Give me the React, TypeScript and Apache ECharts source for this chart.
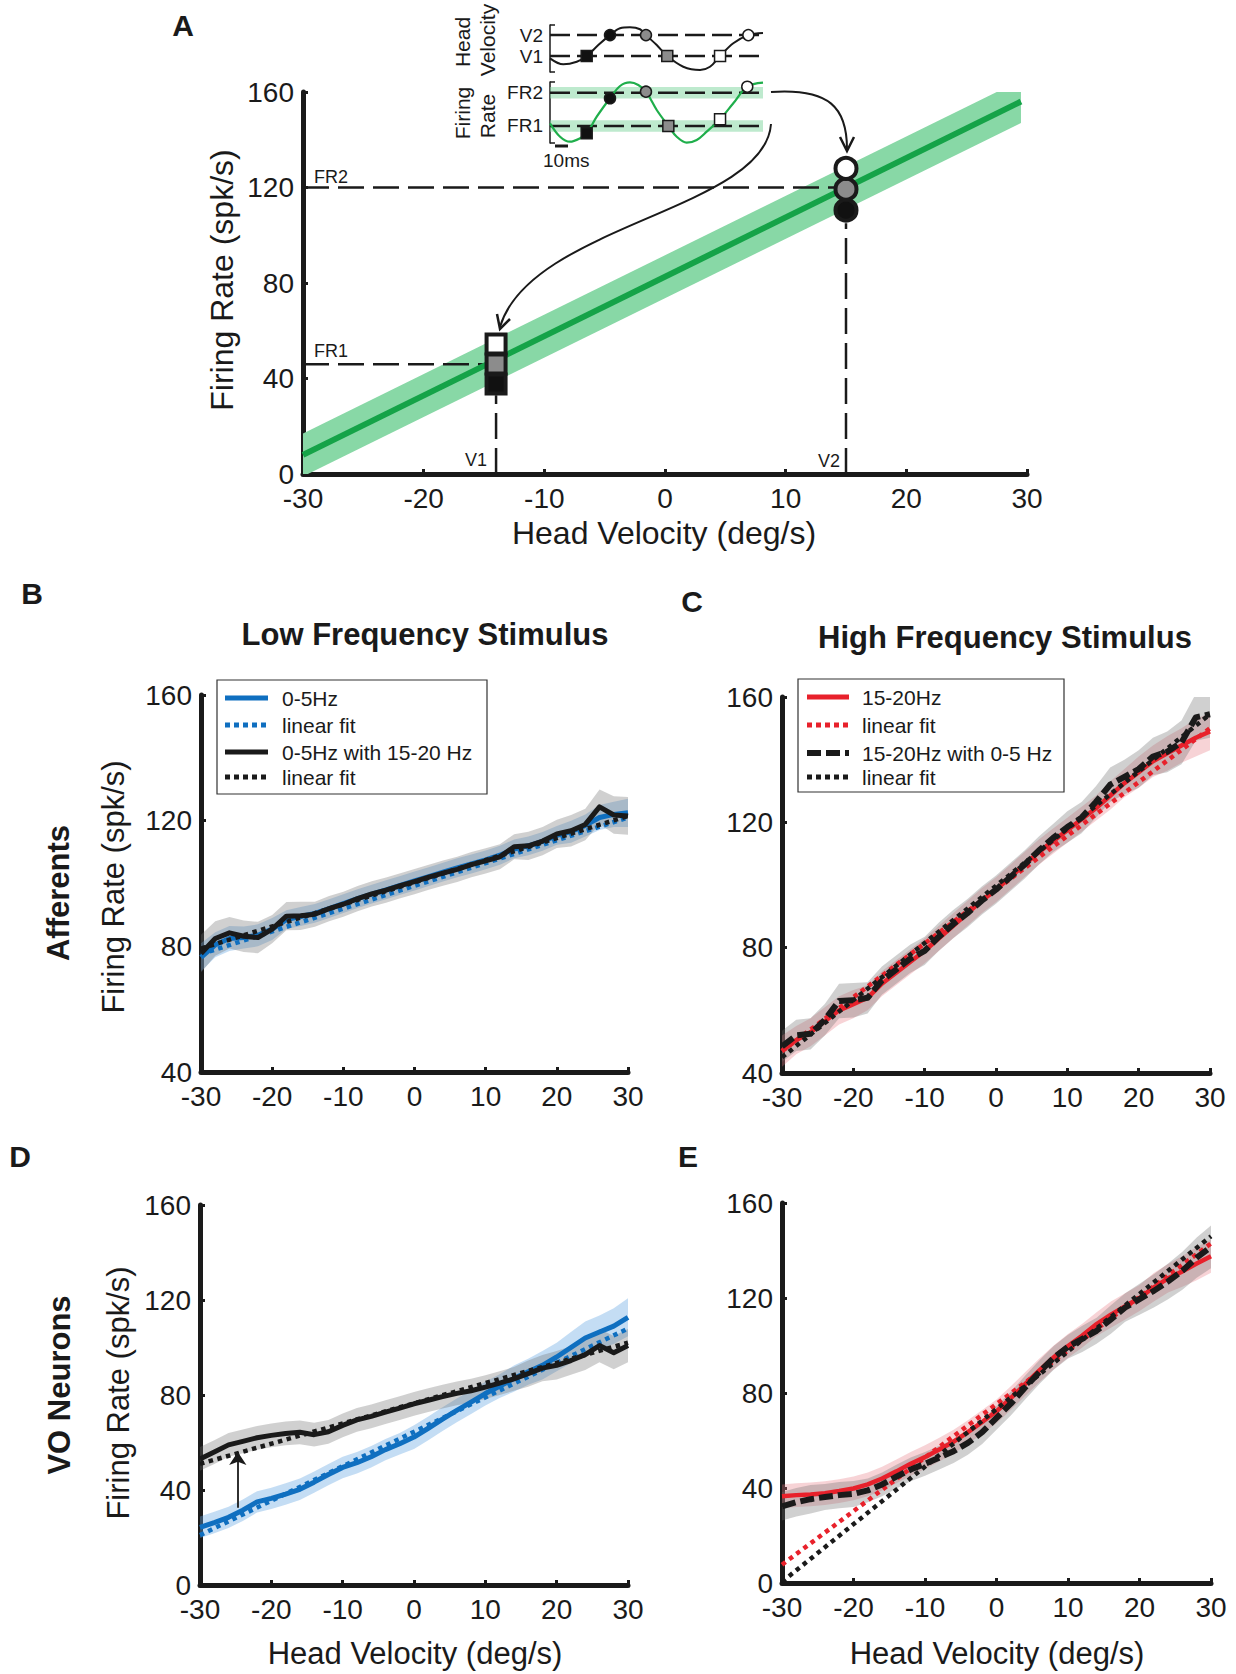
import React, { useEffect, useRef } from 'react';
import * as echarts from 'echarts';

const INK = '#1a1a1a';
const FONT = "'Liberation Sans', Arial, Helvetica, sans-serif";
const BLUE = '#0f6fc0';
const BLUE_BAND = 'rgba(100,165,225,0.38)';
const RED = '#e8212b';
const RED_BAND = 'rgba(232,120,130,0.33)';
const GREY_BAND = 'rgba(110,110,110,0.32)';
const GREEN = '#15a348';
const GREEN_BAND = '#88d8a6';

// ---------- Panel A ----------
const A_FIT_X = [-30, 29.5];
const A_FIT_Y = [8, 156];
const A_BAND_HALF = 9;
const V1 = -14;
const V2 = 15;
const FR1 = 46;
const FR2 = 120;
const A_SQUARES = [37.7, 46.1, 54.5]; // black, grey, white
const A_CIRCLES = [110.5, 119.3, 128]; // black, grey, white
const MARK_FILLS = ['#111111', '#8c8c8c', '#ffffff'];

// inset (time in ms)
const HV_T = [0, 11.2, 22.6, 31, 40.8, 50.7, 59.2, 67.6, 76.1, 81.1, 90.2, 99.1, 112.6, 126.8, 135.2, 143.7, 154.9, 167.6, 180];
const HV_V = [-17.1, -25.4, -21.8, -14, 1.3, 15, 24.4, 25.8, 23.1, 15, 1.3, -14, -28.7, -33.2, -28.7, -14, 3.7, 15, 17.9];
const FR_T = [0, 8.5, 16.9, 25.4, 31, 39.5, 50.7, 59.2, 67.6, 74.6, 81.1, 90.2, 100, 107.1, 115.5, 124, 132.4, 143.7, 154.9, 166.7, 180];
const FR_V = [51.9, 22, 10.9, 18.5, 29.6, 66.6, 107.7, 135.1, 143, 137.3, 122.4, 81.6, 46, 22, 8.7, 14.7, 33.2, 60.8, 96.5, 133.5, 142.4];
const HV_MARK_T = [31, 50.7, 81.1, 99.1, 143.7, 167.6];
const HV_MARK_V = [V1, V2, V2, V1, V1, V2];
const FR_MARK_T = [31, 50.7, 81.1, 100, 143.7, 166.7];
const FR_MARK_V = [29.6, 107.7, 122.4, 46, 60.8, 133.5];
const MARK_KIND = ['rect', 'circle', 'circle', 'rect', 'rect', 'circle'];
const MARK_SHADE = [0, 0, 1, 1, 2, 2];
const INSET_T_RANGE = [0, 180];
const INSET_BAND_HALF = 13;

// ---------- Panels B-E ----------
const VEL = [-30, -28, -26, -24, -22, -20, -18, -16, -14, -12, -10, -8, -6, -4, -2, 0, 2, 4, 6, 8, 10, 12, 14, 16, 18, 20, 22, 24, 26, 28, 30];
const FIT_X = [-30, 30];

const B_LOW = [76.5, 80.5, 82.5, 82.8, 83.5, 85.5, 88.5, 89.5, 90.5, 92, 93.6, 95.2, 96.6, 98, 99.4, 100.8, 102.2, 103.6, 105, 106.2, 107.5, 109, 111, 112, 113.4, 115.3, 116.5, 118.5, 121, 122, 122.5];
const B_MIX = [77.7, 82.5, 84.3, 83.2, 82.8, 85.5, 89.6, 89.7, 90.2, 92, 93.4, 95.2, 96.7, 97.9, 99.3, 100.6, 102, 103.3, 104.5, 106, 107.2, 108.5, 111.7, 112, 113.5, 115.8, 116.8, 118.8, 124.4, 121.8, 121.5];
const B_LOW_SEM = [4.5, 4, 4, 3.5, 3.5, 3.5, 3, 3, 3, 3, 3, 3, 3, 3, 3, 3, 3, 3, 3, 3, 3, 3, 3, 3, 3, 3, 3.5, 3.5, 4, 4, 4.5];
const B_MIX_SEM = [6, 5.5, 5, 5, 5, 4.5, 4.5, 4.5, 4, 4, 4, 4, 4, 4, 4, 4, 4, 4, 4, 4, 4, 4, 4, 4.5, 4.5, 4.5, 5, 5, 5.5, 6, 6];
const B_LOW_FIT = [77.5, 121];
const B_MIX_FIT = [79.3, 121.5];

const C_HIGH = [47, 50.5, 53, 56.5, 60, 62, 64, 68.5, 72, 75.5, 79, 83, 87, 91, 95, 98.5, 102.5, 106.5, 110.5, 114, 117.5, 121, 124.5, 128.5, 132.5, 136, 139.5, 142, 144.5, 147, 149];
const C_MIX = [48.5, 52, 52.5, 57, 63, 63.2, 64, 69.5, 73, 76.5, 79, 83.5, 87.5, 91, 95, 98.5, 102.5, 106.5, 111, 115, 118.5, 121.5, 126.5, 132, 134.5, 137, 141, 142.5, 145.5, 153.5, 154.5];
const C_HIGH_SEM = [5, 4.5, 4.5, 4.5, 4.5, 4.5, 4, 4, 4, 4, 4, 4, 4, 4, 4, 4, 4, 4, 4, 4, 4, 4, 4, 4.5, 4.5, 5, 5, 5.5, 5.5, 6, 6];
const C_MIX_SEM = [5, 5, 5, 5, 5.5, 5.5, 5, 4.5, 4.5, 4.5, 4.5, 4.5, 4.5, 4.5, 4.5, 4.5, 4.5, 4.5, 4.5, 4.5, 5, 5, 5, 5.5, 5.5, 6, 6, 6.5, 7, 7.5, 7.5];
const C_HIGH_FIT = [47, 150];
const C_MIX_FIT = [45, 154.5];

const D_LOW = [24.3, 26.3, 28.5, 31.5, 35, 36.5, 38.3, 40.3, 43.3, 46.5, 49.5, 51.5, 54, 57, 59.5, 62.3, 66, 69.8, 73.5, 77, 80.6, 83.7, 86.9, 89.8, 92.5, 96, 100, 104, 106.5, 109, 112.7];
const D_MIX = [53.1, 56, 59, 60.5, 62, 63, 63.8, 64.3, 63.3, 64.5, 67.2, 69.5, 71, 72.8, 74.5, 76.3, 77.8, 79.3, 80.7, 81.8, 83.3, 85, 86.8, 89, 91.3, 92.5, 94.5, 97, 100.8, 97.8, 100.8];
const D_LOW_SEM = [4.5, 4.5, 4.5, 4.5, 4.5, 4.5, 4.5, 4.5, 4.5, 4.5, 4.5, 4.5, 4.5, 4.5, 4.5, 5, 5, 5, 5, 5, 5, 5, 5.5, 5.5, 6, 6, 6.5, 7, 7, 7.5, 8];
const D_MIX_SEM = [5, 5, 5, 5, 5, 5, 5, 5, 5, 5, 5, 5, 5, 5, 5, 5, 5, 5, 5, 5, 5, 5, 5, 5.5, 5.5, 6, 6, 6.5, 7, 7, 7];
const D_LOW_FIT = [21, 108];
const D_MIX_FIT = [51, 102];
const D_ARROW_X = -24.7;
const D_ARROW_Y = [32.5, 56];

const E_HIGH = [36.5, 37, 37.3, 37.8, 38.7, 39.8, 41.5, 44, 47, 50.2, 53, 56.2, 59.5, 63.5, 67.8, 72.3, 77.8, 83.7, 89.5, 95, 99.8, 104.2, 109, 113, 116.5, 120, 124.5, 128.3, 131.2, 134.5, 137.6];
const E_MIX = [32.3, 34, 35.3, 36.2, 37, 37.5, 39, 41.5, 44.8, 47.8, 50.2, 52.8, 55.5, 59, 63.5, 69.5, 75.5, 82.3, 88.8, 94.8, 99.5, 102.8, 106.2, 111, 116, 119.5, 123, 127, 131.5, 137, 141.5];
const E_HIGH_SEM = [5, 5, 5, 5, 5, 5, 5, 5, 5, 5, 5, 5, 5, 5, 5, 5, 5, 5, 5, 5, 5, 5, 5, 5.5, 5.5, 5.5, 6, 6, 6.5, 7, 7];
const E_MIX_SEM = [6, 6, 6, 5.5, 5.5, 5.5, 5, 5, 5, 5, 5, 5, 5, 5, 5, 5, 5, 5, 5, 5, 5, 5.5, 5.5, 6, 6, 6.5, 7, 7.5, 8, 8.5, 9];
const E_HIGH_FIT = [7.7, 143];
const E_MIX_FIT = [0.5, 146];

const X_TICKS = { min: -30, max: 30, interval: 10 };

// ---------- helpers ----------
const pairs = (xs: number[], ys: number[]) => xs.map((x, i) => [x, ys[i]]);

function band(gi: number, xs: number[], mean: number[], half: number[] | number, color: string) {
  const h = (i: number) => (Array.isArray(half) ? half[i] : half);
  const lo = mean.map((m, i) => m - h(i));
  const hi = mean.map((m, i) => m + h(i));
  return {
    type: 'custom',
    xAxisIndex: gi,
    yAxisIndex: gi,
    clip: true,
    silent: true,
    z: 1,
    encode: { x: 0, y: 1 },
    data: [[xs[0], mean[0]]],
    renderItem: (_p: any, api: any) => {
      const pts: number[][] = [];
      for (let i = 0; i < xs.length; i++) pts.push(api.coord([xs[i], hi[i]]));
      for (let i = xs.length - 1; i >= 0; i--) pts.push(api.coord([xs[i], lo[i]]));
      return { type: 'polygon', shape: { points: pts }, style: { fill: color } };
    },
  };
}

function line(gi: number, data: number[][], color: string, width: number, type: any = 'solid', z = 3, smooth: any = false) {
  return {
    type: 'line',
    xAxisIndex: gi,
    yAxisIndex: gi,
    data,
    symbol: 'none',
    showSymbol: false,
    smooth,
    clip: true,
    silent: true,
    z,
    lineStyle: { color, width, type, cap: 'butt', join: 'round' },
  };
}

function markers(gi: number, ts: number[], vs: number[], size: number, border: number, kinds: string[], shades: number[], z = 6) {
  return {
    type: 'scatter',
    xAxisIndex: gi,
    yAxisIndex: gi,
    silent: true,
    z,
    clip: false,
    data: ts.map((t, i) => ({
      value: [t, vs[i]],
      symbol: kinds[i],
      symbolSize: size,
      itemStyle: { color: MARK_FILLS[shades[i]], borderColor: INK, borderWidth: border, opacity: 1 },
    })),
  };
}

function xMain(gi: number) {
  return {
    type: 'value',
    gridIndex: gi,
    ...X_TICKS,
    axisLine: { show: true, onZero: false, lineStyle: { color: INK, width: 5 } },
    axisTick: { show: true, inside: true, length: 5, lineStyle: { color: INK, width: 3 } },
    axisLabel: { color: INK, fontSize: 28, fontFamily: FONT, margin: 10 },
    splitLine: { show: false },
  };
}
function yMain(gi: number, min: number) {
  return {
    type: 'value',
    gridIndex: gi,
    min,
    max: 160,
    interval: 40,
    axisLine: { show: true, onZero: false, lineStyle: { color: INK, width: 5 } },
    axisTick: { show: true, inside: true, length: 5, lineStyle: { color: INK, width: 3 } },
    axisLabel: { color: INK, fontSize: 28, fontFamily: FONT, margin: 9 },
    splitLine: { show: false },
  };
}
function yInset(gi: number, min: number, max: number, levels: number[], names: string[]) {
  return {
    type: 'value',
    gridIndex: gi,
    min,
    max,
    axisLine: { show: true, onZero: false, lineStyle: { color: INK, width: 1.5 } },
    axisTick: { show: true, inside: true, length: 5, customValues: [min, max], lineStyle: { color: INK, width: 1.5 } },
    axisLabel: {
      show: true,
      customValues: levels,
      formatter: (v: number) => (Math.abs(v - levels[1]) < 0.01 ? names[1] : names[0]),
      color: INK,
      fontSize: 19,
      fontFamily: FONT,
      margin: 7,
    },
    splitLine: { show: false },
  };
}
const xInset = (gi: number) => ({ type: 'value', gridIndex: gi, min: INSET_T_RANGE[0], max: INSET_T_RANGE[1], show: false });

const txt = (x: number, y: number, text: string, size: number, opts: any = {}) => ({
  type: 'text',
  x,
  y,
  z: 100,
  rotation: opts.rot || 0,
  silent: true,
  style: {
    text,
    fontSize: size,
    fontWeight: opts.bold ? 'bold' : 'normal',
    fontFamily: FONT,
    fill: INK,
    align: opts.align || 'center',
    verticalAlign: opts.va || 'middle',
  },
});
const seg = (x1: number, y1: number, x2: number, y2: number, color: string, w: number, dash?: number[]) => ({
  type: 'line',
  z: 101,
  silent: true,
  shape: { x1, y1, x2, y2 },
  style: { stroke: color, lineWidth: w, lineDash: dash || null, lineCap: 'butt' },
});

function legendBox(x: number, y: number, w: number, h: number, rows: number[], sx1: number, sx2: number, tx: number, items: any[]) {
  const els: any[] = [
    { type: 'rect', z: 99, silent: true, shape: { x, y, width: w, height: h }, style: { fill: '#fff', stroke: '#333', lineWidth: 1.2 } },
  ];
  items.forEach((it, i) => {
    els.push(seg(sx1, rows[i], sx2, rows[i], it.color, it.w, it.dash));
    els.push(txt(tx, rows[i], it.label, 21, { align: 'left' }));
  });
  return els;
}

export default function App() {
  const ref = useRef<HTMLDivElement>(null);

  useEffect(() => {
    if (!ref.current) return;
    const chart = echarts.init(ref.current, null, { renderer: 'svg' });

    const grids = [
      { left: 303, top: 92, width: 724, height: 382 }, // A
      { left: 550, top: 25, width: 213, height: 47 }, // inset HV
      { left: 550, top: 82, width: 213, height: 61 }, // inset FR
      { left: 201, top: 695, width: 427, height: 377 }, // B
      { left: 782, top: 697, width: 428, height: 376 }, // C
      { left: 200, top: 1205, width: 428, height: 380 }, // D
      { left: 782, top: 1203, width: 429, height: 380 }, // E
    ].map((g) => ({ ...g, containLabel: false, outerBoundsMode: 'none', show: false }));

    const series: any[] = [
      // ---- A ----
      band(0, A_FIT_X, A_FIT_Y, A_BAND_HALF, GREEN_BAND),
      line(0, [[-30, FR2], [V2, FR2]], INK, 2.5, [26, 9], 3),
      line(0, [[V2, 0], [V2, 105]], INK, 2.5, [26, 9], 3),
      line(0, [[-30, FR1], [V1, FR1]], INK, 2.5, [26, 9], 3),
      line(0, [[V1, 0], [V1, 33]], INK, 2.5, [26, 9], 3),
      line(0, pairs(A_FIT_X, A_FIT_Y), GREEN, 6, 'solid', 4),
      markers(0, [V1, V1, V1], A_SQUARES, 19, 4, ['rect', 'rect', 'rect'], [0, 1, 2]),
      markers(0, [V2, V2, V2], A_CIRCLES, 21, 4, ['circle', 'circle', 'circle'], [0, 1, 2]),
      // ---- inset HV ----
      line(1, [[INSET_T_RANGE[0], V2], [INSET_T_RANGE[1], V2]], INK, 2.5, [20, 7], 3),
      line(1, [[INSET_T_RANGE[0], V1], [INSET_T_RANGE[1], V1]], INK, 2.5, [20, 7], 3),
      line(1, pairs(HV_T, HV_V), INK, 2, 'solid', 4, 0.35),
      markers(1, HV_MARK_T, HV_MARK_V, 11, 1.5, MARK_KIND, MARK_SHADE),
      // ---- inset FR ----
      band(2, INSET_T_RANGE, [FR2, FR2], INSET_BAND_HALF, 'rgba(136,216,166,0.55)'),
      band(2, INSET_T_RANGE, [FR1, FR1], INSET_BAND_HALF, 'rgba(136,216,166,0.55)'),
      line(2, [[INSET_T_RANGE[0], FR2], [INSET_T_RANGE[1], FR2]], INK, 2.5, [20, 7], 3),
      line(2, [[INSET_T_RANGE[0], FR1], [INSET_T_RANGE[1], FR1]], INK, 2.5, [20, 7], 3),
      line(2, pairs(FR_T, FR_V), '#1fae4b', 2.2, 'solid', 4, 0.35),
      markers(2, FR_MARK_T, FR_MARK_V, 11, 1.5, MARK_KIND, MARK_SHADE),
      // ---- B ----
      band(3, VEL, B_LOW, B_LOW_SEM, BLUE_BAND),
      band(3, VEL, B_MIX, B_MIX_SEM, GREY_BAND),
      line(3, pairs(VEL, B_LOW), BLUE, 5, 'solid', 3),
      line(3, pairs(FIT_X, B_LOW_FIT), BLUE, 4.5, [4.5, 4.5], 3),
      line(3, pairs(VEL, B_MIX), INK, 5, 'solid', 4),
      line(3, pairs(FIT_X, B_MIX_FIT), INK, 4.5, [4.5, 4.5], 4),
      // ---- C ----
      band(4, VEL, C_HIGH, C_HIGH_SEM, RED_BAND),
      band(4, VEL, C_MIX, C_MIX_SEM, GREY_BAND),
      line(4, pairs(VEL, C_HIGH), RED, 4.5, 'solid', 3),
      line(4, pairs(FIT_X, C_HIGH_FIT), RED, 4.5, [4.5, 4.5], 3),
      line(4, pairs(VEL, C_MIX), INK, 6, [14, 5], 4),
      line(4, pairs(FIT_X, C_MIX_FIT), INK, 4.5, [4.5, 4.5], 4),
      // ---- D ----
      band(5, VEL, D_LOW, D_LOW_SEM, BLUE_BAND),
      band(5, VEL, D_MIX, D_MIX_SEM, GREY_BAND),
      line(5, pairs(VEL, D_LOW), BLUE, 5, 'solid', 3),
      line(5, pairs(FIT_X, D_LOW_FIT), BLUE, 4.5, [4.5, 4.5], 3),
      line(5, pairs(VEL, D_MIX), INK, 5, 'solid', 4),
      line(5, pairs(FIT_X, D_MIX_FIT), INK, 4.5, [4.5, 4.5], 4),
      {
        type: 'lines',
        coordinateSystem: 'cartesian2d',
        xAxisIndex: 5,
        yAxisIndex: 5,
        silent: true,
        z: 6,
        symbol: ['none', 'arrow'],
        symbolSize: 13,
        lineStyle: { color: INK, width: 1.8, opacity: 1 },
        data: [{ coords: [[D_ARROW_X, D_ARROW_Y[0]], [D_ARROW_X, D_ARROW_Y[1]]] }],
      },
      // ---- E ----
      band(6, VEL, E_HIGH, E_HIGH_SEM, RED_BAND),
      band(6, VEL, E_MIX, E_MIX_SEM, GREY_BAND),
      line(6, pairs(VEL, E_HIGH), RED, 4.5, 'solid', 3),
      line(6, pairs(FIT_X, E_HIGH_FIT), RED, 4.5, [4.5, 4.5], 3),
      line(6, pairs(VEL, E_MIX), INK, 6, [14, 5], 4),
      line(6, pairs(FIT_X, E_MIX_FIT), INK, 4.5, [4.5, 4.5], 4),
    ];

    const graphic: any[] = [
      // panel letters
      txt(183, 25, 'A', 30, { bold: true }),
      txt(32, 593, 'B', 30, { bold: true }),
      txt(692, 601, 'C', 30, { bold: true }),
      txt(20, 1156, 'D', 30, { bold: true }),
      txt(688, 1156, 'E', 30, { bold: true }),
      // titles / row labels
      txt(425, 634, 'Low Frequency Stimulus', 31, { bold: true }),
      txt(1005, 637, 'High Frequency Stimulus', 31, { bold: true }),
      txt(58, 893, 'Afferents', 31, { bold: true, rot: Math.PI / 2 }),
      txt(59, 1385, 'VO Neurons', 31, { bold: true, rot: Math.PI / 2 }),
      // axis names
      txt(222, 280, 'Firing Rate (spk/s)', 32, { rot: Math.PI / 2 }),
      txt(664, 533, 'Head Velocity (deg/s)', 32),
      txt(113, 887, 'Firing Rate (spk/s)', 31, { rot: Math.PI / 2 }),
      txt(118, 1393, 'Firing Rate (spk/s)', 31, { rot: Math.PI / 2 }),
      txt(415, 1653, 'Head Velocity (deg/s)', 31),
      txt(997, 1653, 'Head Velocity (deg/s)', 31),
      // panel A annotations
      txt(314, 186, 'FR2', 18, { align: 'left', va: 'bottom' }),
      txt(314, 360, 'FR1', 18, { align: 'left', va: 'bottom' }),
      txt(487, 469, 'V1', 18, { align: 'right', va: 'bottom' }),
      txt(840, 470, 'V2', 18, { align: 'right', va: 'bottom' }),
      // inset labels
      txt(462, 42, 'Head', 21, { rot: Math.PI / 2 }),
      txt(487, 40, 'Velocity', 21, { rot: Math.PI / 2 }),
      txt(462, 113, 'Firing', 21, { rot: Math.PI / 2 }),
      txt(487, 116, 'Rate', 21, { rot: Math.PI / 2 }),
      seg(555, 146, 568, 146, INK, 3),
      txt(543, 160, '10ms', 19, { align: 'left' }),
      // curved arrows
      {
        type: 'bezierCurve',
        z: 100,
        silent: true,
        shape: { x1: 771, y1: 92, cpx1: 830, cpy1: 88, cpx2: 847, cpy2: 108, x2: 847, y2: 149 },
        style: { stroke: INK, lineWidth: 2, fill: null },
      },
      { type: 'polyline', z: 100, silent: true, shape: { points: [[840, 137], [847, 151], [854, 137]] }, style: { stroke: INK, lineWidth: 2.5, fill: null } },
      {
        type: 'bezierCurve',
        z: 100,
        silent: true,
        shape: { x1: 771, y1: 124, cpx1: 765, cpy1: 210, cpx2: 530, cpy2: 225, x2: 500, y2: 327 },
        style: { stroke: INK, lineWidth: 2, fill: null },
      },
      { type: 'polyline', z: 100, silent: true, shape: { points: [[497, 314], [500, 329], [510, 319]] }, style: { stroke: INK, lineWidth: 2.5, fill: null } },
      // legends
      ...legendBox(217, 680, 270, 114, [698, 725, 752, 777], 225, 268, 282, [
        { label: '0-5Hz', color: BLUE, w: 5 },
        { label: 'linear fit', color: BLUE, w: 5, dash: [5, 4] },
        { label: '0-5Hz with 15-20 Hz', color: INK, w: 5 },
        { label: 'linear fit', color: INK, w: 5, dash: [5, 4] },
      ]),
      ...legendBox(798, 679, 266, 113, [697, 725, 753, 777], 807, 849, 862, [
        { label: '15-20Hz', color: RED, w: 5 },
        { label: 'linear fit', color: RED, w: 5, dash: [5, 4] },
        { label: '15-20Hz with 0-5 Hz', color: INK, w: 6, dash: [14, 5] },
        { label: 'linear fit', color: INK, w: 5, dash: [5, 4] },
      ]),
    ];

    chart.setOption({
      animation: false,
      backgroundColor: '#ffffff',
      textStyle: { fontFamily: FONT },
      grid: grids,
      xAxis: [xMain(0), xInset(1), xInset(2), xMain(3), xMain(4), xMain(5), xMain(6)],
      yAxis: [
        yMain(0, 0),
        yInset(1, -36, 29, [V1, V2], ['V1', 'V2']),
        yInset(2, 8, 144, [FR1, FR2], ['FR1', 'FR2']),
        yMain(3, 40),
        yMain(4, 40),
        yMain(5, 0),
        yMain(6, 0),
      ],
      series,
      graphic,
    });

    return () => chart.dispose();
  }, []);

  return <div ref={ref} style={{ position: 'absolute', left: 0, top: 0, width: 1236, height: 1674, background: '#fff' }} />;
}
